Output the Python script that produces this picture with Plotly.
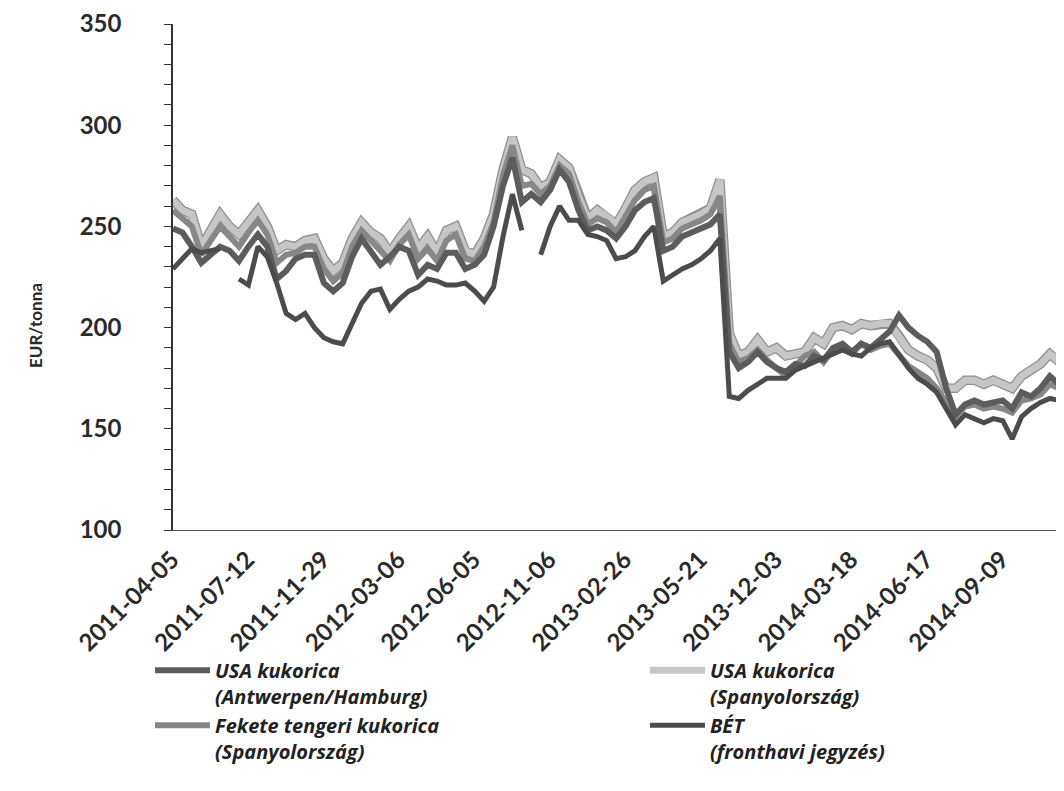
import plotly.graph_objects as go

# Category tick labels (every 8th observation)
tick_labels = ["2011-04-05", "2011-07-12", "2011-11-29", "2012-03-06", "2012-06-05",
               "2012-11-06", "2013-02-26", "2013-05-21", "2013-12-03", "2014-03-18",
               "2014-06-17", "2014-09-09"]

# USA kukorica (Spanyolország) - light
usa_spain = [263, 258, 256, 240, 248, 256, 250, 246, 252, 258,
             250, 238, 241, 240, 243, 244, 234, 228, 232, 244,
             252, 247, 244, 237, 244, 250, 239, 245, 237, 248,
             250, 238, 236, 244, 256, 278, 294, 278, 276, 269,
             272, 283, 279, 265, 254, 258, 255, 251, 259, 268,
             272, 274, 245, 247, 252, 254, 256, 259, 273, 197,
             186, 188, 194, 188, 190, 186, 187, 188, 195, 192,
             200, 201, 199, 202, 201, 202, 202, 196, 189, 186,
             184, 180, 170, 170, 174, 174, 172, 174, 172, 170,
             176, 179, 182, 187, 183]

# Fekete tengeri kukorica (Spanyolország) - medium
black_sea = [258, 254, 250, 236, 243, 250, 245, 240, 247, 253,
             246, 232, 236, 237, 240, 240, 229, 223, 227, 240,
             248, 243, 239, 233, 241, 246, 234, 239, 233, 243,
             246, 234, 233, 240, 252, 275, 290, 270, 271, 266,
             270, 280, 276, 262, 251, 254, 252, 247, 255, 263,
             268, 270, 242, 244, 249, 251, 253, 256, 265, 192,
             183, 185, 189, 184, 180, 176, 181, 186, 188, 183,
             189, 190, 187, 192, 189, 191, 192, 186, 181, 178,
             175, 170, 163, 156, 161, 162, 160, 161, 160, 158,
             164, 165, 167, 172, 170]

# USA kukorica (Antwerpen/Hamburg) - dark
usa_ah = [249, 247, 240, 232, 236, 240, 238, 233, 240, 246,
          240, 224, 228, 234, 236, 236, 222, 218, 222, 235,
          244, 238, 231, 235, 240, 238, 226, 231, 229, 237,
          237, 229, 231, 236, 250, 270, 284, 262, 266, 262,
          268, 278, 272, 258, 248, 250, 248, 244, 250, 258,
          262, 264, 238, 240, 245, 247, 249, 251, 256, 188,
          180, 183, 188, 183, 180, 178, 182, 181, 186, 184,
          190, 192, 188, 192, 190, 194, 198, 206, 200, 196,
          193, 188, 170, 157, 162, 164, 162, 163, 164, 160,
          168, 166, 170, 176, 172]

# BÉT (fronthavi jegyzés) - with gaps
bet = [229, 234, 239, 237, 238, 239, None, 224, 221, 240,
       235, 222, 207, 204, 207, 200, 195, 193, 192, 202,
       212, 218, 219, 209, 214, 218, 220, 224, 223, 221,
       221, 222, 218, 213, 220, 245, 266, 248, None, 236,
       250, 260, 253, 253, 246, 245, 243, 234, 235, 238,
       245, 250, 223, 226, 229, 231, 234, 238, 244, 166,
       165, 169, 172, 175, 175, 175, 179, 181, 183, 185,
       187, 189, 187, 186, 190, 192, 193, 186, 180, 175,
       172, 168, 160, 152, 157, 155, 153, 155, 154, 145,
       156, 160, 163, 165, 164]

names = {
    "usa_ah": "USA kukorica<br>(Antwerpen/Hamburg)",
    "usa_spain": "USA kukorica<br>(Spanyolország)",
    "black_sea": "Fekete tengeri kukorica<br>(Spanyolország)",
    "bet": "BÉT<br>(fronthavi jegyzés)",
}

x_idx = list(range(len(usa_spain)))
step = 8
tick_vals = [i * step for i in range(len(tick_labels))]

fig = go.Figure()
# outline for the light series (scanned look)
fig.add_trace(go.Scatter(x=x_idx, y=usa_spain, mode="lines", showlegend=False, hoverinfo="skip",
                         line=dict(color="#8f8f8f", width=9.5), legend="legend2"))
fig.add_trace(go.Scatter(x=x_idx, y=usa_spain, mode="lines", name=names["usa_spain"],
                         line=dict(color="#c6c6c6", width=7), legend="legend2", legendrank=1))
fig.add_trace(go.Scatter(x=x_idx, y=black_sea, mode="lines", name=names["black_sea"],
                         line=dict(color="#878787", width=6), legend="legend", legendrank=2))
fig.add_trace(go.Scatter(x=x_idx, y=usa_ah, mode="lines", name=names["usa_ah"],
                         line=dict(color="#5c5c5c", width=6), legend="legend", legendrank=1))
fig.add_trace(go.Scatter(x=x_idx, y=bet, mode="lines", name=names["bet"],
                         line=dict(color="#4c4c4c", width=5), connectgaps=False,
                         legend="legend2", legendrank=2))

fig.add_annotation(text="EUR/tonna", xref="paper", yref="paper",
                   x=-0.155, y=0.405, xanchor="center", yanchor="middle",
                   textangle=-90, showarrow=False,
                   font=dict(family="Lato", size=17, weight="bold", color="#2a2a2a"))

legend_font = dict(family="Open Sans", size=20, weight="bold", style="italic", color="#222")

fig.update_layout(
    width=1056, height=783,
    margin=dict(l=165, r=0, t=12, b=261),
    paper_bgcolor="white", plot_bgcolor="white",
    font=dict(family="Lato", color="#2a2a2a"),
    showlegend=True,
    legend=dict(orientation="v", x=-0.0258, y=-0.2385, xanchor="left", yanchor="top",
                itemwidth=55, font=legend_font, valign="top", tracegroupgap=0,
                bgcolor="rgba(0,0,0,0)", traceorder="normal"),
    legend2=dict(orientation="v", x=0.5297, y=-0.2385, xanchor="left", yanchor="top",
                 itemwidth=55, font=legend_font, valign="top", tracegroupgap=0,
                 bgcolor="rgba(0,0,0,0)", traceorder="normal"),
    xaxis=dict(range=[0, 94.5], tickmode="array", tickvals=tick_vals, ticktext=tick_labels,
               tickangle=-45, showgrid=False, zeroline=False, showline=True,
               linecolor="#555", linewidth=1.2, ticks="",
               tickfont=dict(family="Lato", size=24, weight="bold", color="#2a2a2a"),
               ticklabelstandoff=5, ticklabelshift=-1),
    yaxis=dict(range=[100, 350], dtick=50, showgrid=False, zeroline=False, showline=True,
               linecolor="#333", linewidth=1.5, ticks="outside", ticklen=7, tickcolor="#333",
               minor=dict(dtick=10, ticks="outside", ticklen=7, tickcolor="#333"),
               tickfont=dict(family="Lato", size=24, weight="bold", color="#2a2a2a"),
               ticklabelstandoff=38, ticklabeloverflow="allow"),
)

fig.write_html("out.html")
